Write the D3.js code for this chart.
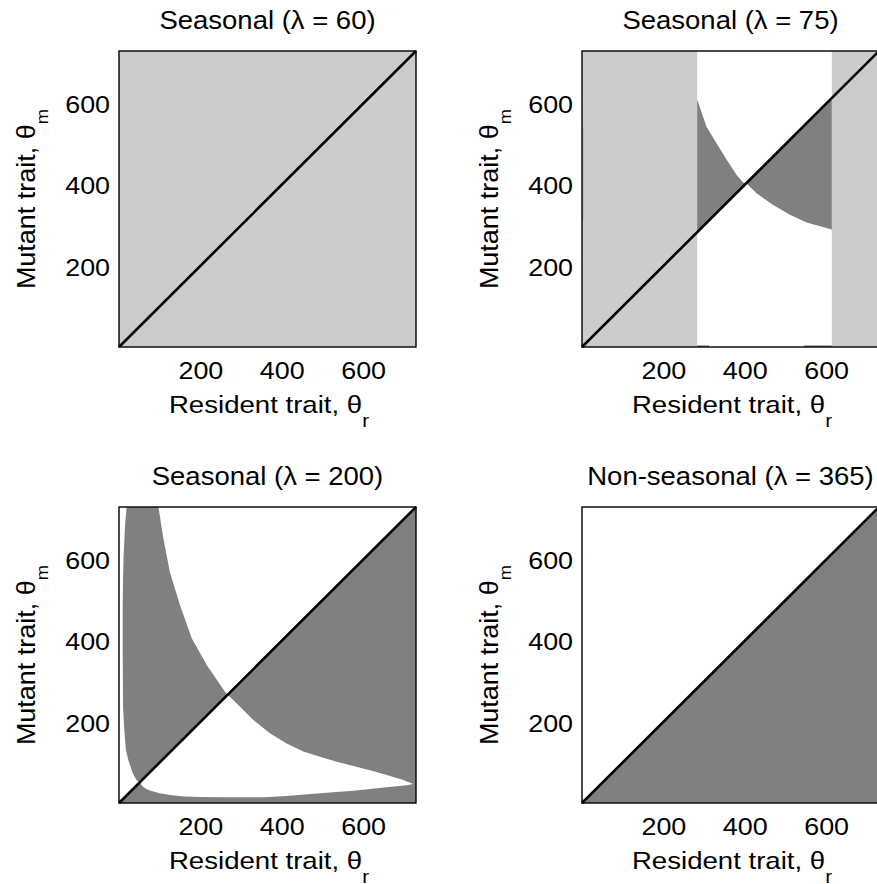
<!DOCTYPE html>
<html>
<head>
<meta charset="utf-8">
<script src="https://cdn.jsdelivr.net/npm/d3@7"></script>
<style>
  html, body { margin: 0; padding: 0; background: #fff; }
  svg { display: block; font-family: "Liberation Sans", Arial, sans-serif; }
</style>
</head>
<body>
<svg id="chart" width="877" height="884"></svg>
<script>
// trait axis range (both axes) and tick labels
const thetaMax = 730
const tickValues = [200, 400, 600]
const titles = ["Seasonal (λ = 60)", "Seasonal (λ = 75)", "Seasonal (λ = 200)", "Non-seasonal (λ = 365)"]

// lambda = 75 : resident ranges that are light grey over the full mutant range
const lam75Bands = [[0, 283], [614, 730]]
// lambda = 75 : boundary curve [theta_r, theta_m], crosses the diagonal near 404
const lam75Curve = [[283, 611], [306, 543], [331, 502], [356, 461], [380, 424], [396, 406], [404, 404],
  [429, 379], [470, 350], [511, 326], [552, 307], [614, 290]]
// lambda = 75 : small artefacts [r0, r1, m0, m1]
const lam75Edge = [[1, 4, 313, 543]]
const lam75Bottom = [[283, 312, 0, 4], [546, 614, 0, 4]]

// lambda = 200 : left boundary of the left dark lobe (top -> diagonal)
const lam200Left = [[19, 730], [15, 688], [11, 600], [10, 554], [9, 484], [9, 431], [9, 377], [10, 237],
  [13, 180], [17, 131], [23, 106], [34, 73], [43, 57], [51, 51]]
// lambda = 200 : main boundary curve (top -> diagonal at 267 -> right tip)
const lam200Upper = [[97, 730], [109, 653], [125, 570], [150, 488], [179, 406], [216, 340], [260, 275], [267, 267],
  [297, 238], [330, 205], [371, 172], [412, 147], [453, 127], [494, 114], [535, 102], [576, 91],
  [617, 81], [658, 69], [699, 57], [723, 47]]
// lambda = 200 : lower boundary of the white lens (diagonal at 51 -> right tip)
const lam200Lower = [[51, 51], [57, 42], [66, 35], [78, 30], [100, 24], [130, 19], [160, 16], [200, 15],
  [250, 14], [355, 14], [412, 17], [494, 24], [576, 30], [658, 39], [707, 44], [723, 47]]

const lightGrey = "#cccccc", darkGrey = "#808080", midGrey = "#b2b2b2"
const W = 297, H = 296
const origins = [[119, 51], [582, 51], [119, 507], [582, 507]]

const svg = d3.select("#chart")

const box = (r0, r1, m0, m1) => [[r0, m0], [r1, m0], [r1, m1], [r0, m1]]
const full = box(0, thetaMax, 0, thetaMax)
const crossAt = pts => d3.minIndex(pts, d => Math.abs(d[0] - d[1]))

// regions for every panel, drawn in order
const regions = []
regions.push([{ fill: lightGrey, pts: full }])

{
  const k = crossAt(lam75Curve)
  const first = lam75Curve[0], last = lam75Curve[lam75Curve.length - 1]
  const r = []
  lam75Bands.forEach(b => r.push({ fill: lightGrey, pts: box(b[0], b[1], 0, thetaMax) }))
  lam75Edge.forEach(b => r.push({ fill: midGrey, pts: box(...b) }))
  lam75Bottom.forEach(b => r.push({ fill: darkGrey, pts: box(...b) }))
  r.push({ fill: darkGrey, pts: [[first[0], first[0]], ...lam75Curve.slice(0, k + 1)] })
  r.push({ fill: darkGrey, pts: [...lam75Curve.slice(k), [last[0], last[0]]] })
  regions.push(r)
}

{
  const k = crossAt(lam200Upper)
  const r = []
  r.push({ fill: darkGrey, pts: [...lam200Left, ...lam200Upper.slice(0, k + 1).reverse()] })
  r.push({ fill: darkGrey, pts: [[0, 0], ...lam200Lower, ...lam200Upper.slice(k).reverse(),
    [thetaMax, thetaMax], [thetaMax, 0]] })
  regions.push(r)
}

regions.push([{ fill: darkGrey, pts: [[0, 0], [thetaMax, 0], [thetaMax, thetaMax]] }])

// stretched text helper (the figure's font is a bit wider than Arial)
function label(x, y, rot, txt, size, sx, sub, subSize, subDy) {
  const t = svg.append("g")
    .attr("transform", `translate(${x},${y}) rotate(${rot}) scale(${sx},1)`)
    .append("text")
    .attr("text-anchor", "middle")
    .attr("font-size", size)
    .attr("fill", "#000")
  t.append("tspan").text(txt)
  if (sub) t.append("tspan").attr("font-size", subSize).attr("dy", subDy).text(sub)
}

origins.forEach(([ox, oy], i) => {
  const x = d3.scaleLinear().domain([0, thetaMax]).range([ox, ox + W])
  const y = d3.scaleLinear().domain([0, thetaMax]).range([oy + H, oy])
  const line = d3.line().x(d => x(d[0])).y(d => y(d[1]))

  const g = svg.append("g")
  regions[i].forEach(reg => {
    g.append("path")
      .attr("d", line(reg.pts) + "Z")
      .attr("fill", reg.fill)
  })

  // mutant = resident
  g.append("path")
    .attr("d", line([[0, 0], [thetaMax, thetaMax]]))
    .attr("stroke", "#000")
    .attr("stroke-width", 2.6)
    .attr("fill", "none")

  g.append("rect")
    .attr("x", x(0)).attr("y", y(thetaMax))
    .attr("width", W).attr("height", H)
    .attr("fill", "none")
    .attr("stroke", "#000")
    .attr("stroke-width", 1.4)

  svg.append("g")
    .attr("transform", `translate(0,${oy + H})`)
    .call(d3.axisBottom(x).tickValues(tickValues).tickSize(0).tickPadding(15))
    .call(a => a.select(".domain").remove())
    .attr("font-family", null)
    .attr("font-size", 24)
    .selectAll("text")
    .attr("fill", "#000")
    .attr("transform", "scale(1.12,1)")

  svg.append("g")
    .attr("transform", `translate(${ox},0)`)
    .call(d3.axisLeft(y).tickValues(tickValues).tickSize(0).tickPadding(8))
    .call(a => a.select(".domain").remove())
    .attr("font-family", null)
    .attr("font-size", 24)
    .selectAll("text")
    .attr("fill", "#000")
    .attr("dy", "0.38em")
    .attr("transform", "scale(1.12,1)")

  label(ox + W / 2, oy - 22, 0, titles[i], 25, 1.1)
  label(ox + W / 2 + 1.5, oy + H + 66, 0, "Resident trait, θ", 24, 1.15, "r", 18, 14)
  label(ox - 84, oy + H / 2, -90, "Mutant trait, θ", 25, 1.08, "m", 17, 13)
})
</script>
</body>
</html>
